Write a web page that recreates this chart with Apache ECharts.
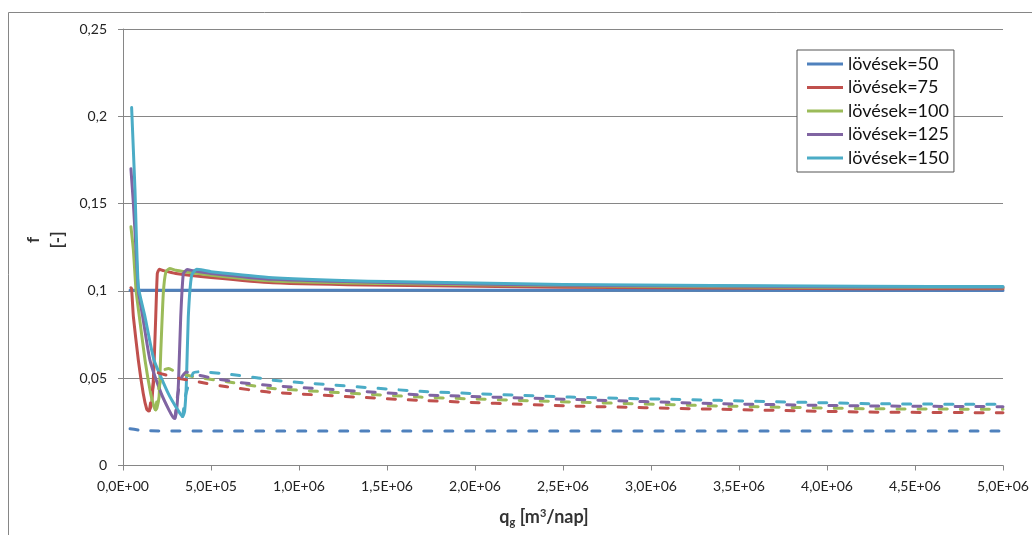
<!DOCTYPE html>
<html>
<head>
<meta charset="utf-8">
<script src="https://cdn.jsdelivr.net/npm/echarts@6/dist/echarts.min.js"></script>
<style>
html,body{margin:0;padding:0;background:#fff;}
#chart{width:1032px;height:535px;}
</style>
</head>
<body>
<div id="chart"></div>
<script>
// ---- data ----
const seriesNames = ['lövések=50', 'lövések=75', 'lövések=100', 'lövések=125', 'lövések=150'];
const yTickLabels = ['0', '0,05', '0,1', '0,15', '0,2', '0,25'];
const xTickLabels = ['0,0E+00', '5,0E+05', '1,0E+06', '1,5E+06', '2,0E+06', '2,5E+06', '3,0E+06', '3,5E+06', '4,0E+06', '4,5E+06', '5,0E+06'];

// solid branch [q_g, f]
const solid50 = [[4.0e4, 0.1004], [1.0e6, 0.1004], [5.0e6, 0.1002]];
const solid75 = [[4.5e4, 0.1018], [4.9e4, 0.1012], [5.9e4, 0.0852], [8.7e4, 0.0604], [1.15e5, 0.0413], [1.35e5, 0.0322], [1.45e5, 0.0312], [1.55e5, 0.0328], [1.63e5, 0.0356], [1.7e5, 0.045], [1.76e5, 0.0566], [1.86e5, 0.0852], [1.95e5, 0.110], [2.06e5, 0.1124], [2.3e5, 0.1116], [3.0e5, 0.110], [5.0e5, 0.1077], [8.5e5, 0.1047], [1.5e6, 0.1032], [2.5e6, 0.1021], [4.2e6, 0.1013], [5.0e6, 0.1012]];
const solid100 = [[4.5e4, 0.1368], [5.9e4, 0.1234], [7.4e4, 0.1005], [9.3e4, 0.0852], [1.25e5, 0.0604], [1.57e5, 0.0413], [1.75e5, 0.034], [1.85e5, 0.0318], [1.93e5, 0.033], [2.05e5, 0.0394], [2.15e5, 0.066], [2.29e5, 0.0986], [2.44e5, 0.111], [2.65e5, 0.1128], [3.0e5, 0.1118], [3.5e5, 0.111], [5.0e5, 0.109], [8.5e5, 0.1057], [1.5e6, 0.1042], [2.5e6, 0.1029], [4.2e6, 0.102], [5.0e6, 0.1018]];
const solid125 = [[4.5e4, 0.170], [5.9e4, 0.150], [7.4e4, 0.1234], [8.7e4, 0.1005], [1.12e5, 0.0852], [1.53e5, 0.0604], [2.17e5, 0.0413], [2.6e5, 0.032], [2.85e5, 0.0275], [2.95e5, 0.027], [3.05e5, 0.032], [3.15e5, 0.047], [3.28e5, 0.0852], [3.43e5, 0.110], [3.65e5, 0.1122], [4.0e5, 0.1115], [5.0e5, 0.110], [8.5e5, 0.1066], [1.5e6, 0.1048], [2.5e6, 0.1033], [4.2e6, 0.1023], [5.0e6, 0.1021]];
const solid150 = [[4.9e4, 0.205], [6.8e4, 0.158], [8.7e4, 0.1024], [1.25e5, 0.0852], [1.76e5, 0.0604], [2.57e5, 0.0413], [3.1e5, 0.032], [3.39e5, 0.028], [3.5e5, 0.031], [3.6e5, 0.047], [3.71e5, 0.0852], [3.9e5, 0.109], [4.18e5, 0.1124], [4.6e5, 0.1118], [5.0e5, 0.111], [8.5e5, 0.1076], [1.5e6, 0.1054], [2.5e6, 0.1037], [4.2e6, 0.1027], [5.0e6, 0.1025]];

// dashed branch [q_g, f]
const dashed50 = [[4.0e4, 0.021], [1.2e5, 0.0199], [5.0e5, 0.0197], [5.0e6, 0.0197]];
const dashed75 = [[1.5e5, 0.0314], [1.7e5, 0.045], [1.85e5, 0.0535], [2.2e5, 0.0525], [3.0e5, 0.0503], [4.2e5, 0.048], [5.9e5, 0.0451], [8.35e5, 0.042], [1.69e6, 0.0373], [2.54e6, 0.0341], [3.39e6, 0.0322], [4.24e6, 0.0306], [5.0e6, 0.0302]];
const dashed100 = [[1.85e5, 0.032], [2.05e5, 0.045], [2.3e5, 0.0545], [2.6e5, 0.0556], [3.0e5, 0.0535], [4.0e5, 0.0509], [5.9e5, 0.048], [8.5e5, 0.0441], [1.69e6, 0.0392], [2.54e6, 0.0364], [3.39e6, 0.0341], [4.24e6, 0.0325], [5.0e6, 0.0322]];
const dashed125 = [[2.95e5, 0.027], [3.1e5, 0.04], [3.3e5, 0.05], [3.6e5, 0.0535], [4.2e5, 0.052], [5.0e5, 0.0502], [6.65e5, 0.0475], [8.5e5, 0.0457], [1.69e6, 0.0405], [2.54e6, 0.0379], [3.39e6, 0.0354], [4.24e6, 0.0341], [5.0e6, 0.0337]];
const dashed150 = [[3.39e5, 0.028], [3.55e5, 0.04], [3.75e5, 0.047], [4.0e5, 0.0531], [4.37e5, 0.0537], [5.9e5, 0.0524], [7.6e5, 0.0503], [8.5e5, 0.0488], [1.69e6, 0.0425], [2.54e6, 0.0392], [3.39e6, 0.0373], [4.24e6, 0.0354], [5.0e6, 0.035]];

// ---- styles ----
const colors = ['#4F81BD', '#C0504D', '#9BBB59', '#8064A2', '#4BACC6'];
const FONT = 'Lato';
const solidSets = [solid50, solid75, solid100, solid125, solid150];
const dashedSets = [dashed50, dashed75, dashed100, dashed125, dashed150];

const series = [];
solidSets.forEach((d, i) => {
  series.push({
    name: seriesNames[i], type: 'line', data: d, showSymbol: false, symbol: 'none',
    smooth: 0.15, color: colors[i],
    lineStyle: { width: 3, color: colors[i], cap: 'round', join: 'round' },
    z: 3
  });
});
dashedSets.forEach((d, i) => {
  series.push({
    name: seriesNames[i] + ' (2)', type: 'line', data: d, showSymbol: false, symbol: 'none',
    smooth: 0.15, color: colors[i],
    lineStyle: { width: 3, color: colors[i], type: [8, 13], cap: 'round', join: 'round' },
    z: 4
  });
});

const chart = echarts.init(document.getElementById('chart'), null, { renderer: 'canvas' });
chart.setOption({
  animation: false,
  backgroundColor: '#fff',
  textStyle: { fontFamily: FONT },
  grid: { left: 123, right: 29, top: 29, bottom: 69.5, containLabel: false },
  legend: {
    data: seriesNames,
    orient: 'vertical',
    left: 797, top: 50,
    padding: [5, 5, 5, 10],
    itemGap: 5.5,
    icon: 'rect',
    itemWidth: 36, itemHeight: 3,
    itemTextGap: 5,
    borderColor: '#555', borderWidth: 1, borderRadius: 0,
    backgroundColor: '#fff',
    selectedMode: false,
    textStyle: { fontFamily: FONT, fontSize: 18, color: '#111' }
  },
  xAxis: {
    type: 'value', min: 0, max: 5e6, interval: 5e5,
    axisLine: { show: true, lineStyle: { color: '#868686', width: 1 } },
    axisTick: { show: true, inside: false, length: 5, lineStyle: { color: '#868686' } },
    splitLine: { show: false },
    axisLabel: {
      margin: 14, color: '#222', fontFamily: FONT, fontSize: 14,
      formatter: (v) => xTickLabels[Math.round(v / 5e5)]
    },
    name: '{b|q}{sub|g}{b| [m}{sup|3}{b|/nap]}',
    nameLocation: 'middle', nameGap: 42,
    nameTextStyle: {
      padding: [0, 38, 0, 0],
      rich: {
        b: { fontFamily: FONT, fontWeight: 'bold', fontSize: 18, color: '#333' },
        sub: { fontFamily: FONT, fontWeight: 'bold', fontSize: 11, color: '#333', verticalAlign: 'bottom', padding: [9, 0, 0, 0] },
        sup: { fontFamily: FONT, fontWeight: 'bold', fontSize: 11, color: '#333', verticalAlign: 'top', padding: [0, 0, 8, 0] }
      }
    }
  },
  yAxis: {
    type: 'value', min: 0, max: 0.25, interval: 0.05,
    axisLine: { show: true, lineStyle: { color: '#868686', width: 1 } },
    axisTick: { show: true, inside: false, length: 5, lineStyle: { color: '#868686' } },
    splitLine: { show: true, lineStyle: { color: '#868686', width: 1 } },
    axisLabel: {
      margin: 16, color: '#222', fontFamily: FONT, fontSize: 14,
      formatter: (v) => yTickLabels[Math.round(v / 0.05)]
    }
  },
  graphic: [
    { type: 'rect', z: -10, silent: true, shape: { x: 8.5, y: 12.5, width: 1100, height: 700 }, style: { fill: 'none', stroke: '#868686', lineWidth: 1 } },
    { type: 'text', x: 34, y: 240, rotation: Math.PI / 2, style: { text: 'f', fontFamily: FONT, fontWeight: 'bold', fontSize: 17, fill: '#333', align: 'center', verticalAlign: 'middle' } },
    { type: 'text', x: 58, y: 240, rotation: Math.PI / 2, style: { text: '[-]', fontFamily: FONT, fontWeight: 'bold', fontSize: 17, fill: '#333', align: 'center', verticalAlign: 'middle' } }
  ],
  series: series
});
</script>
</body>
</html>
